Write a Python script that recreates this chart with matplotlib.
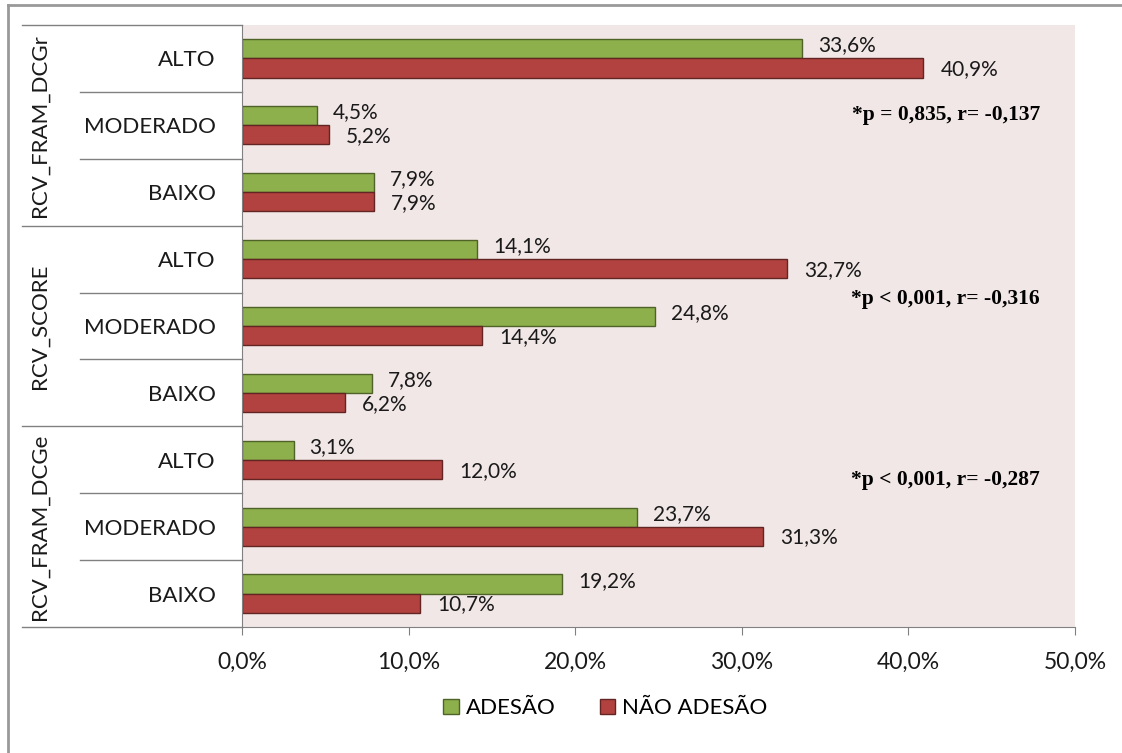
import matplotlib.pyplot as plt
from matplotlib.lines import Line2D

plt.rcParams['font.family'] = ['Lato', 'DejaVu Sans']

groups = ['RCV_FRAM_DCGr', 'RCV_SCORE', 'RCV_FRAM_DCGe']
levels = ['ALTO', 'MODERADO', 'BAIXO']
adesao = [33.6, 4.5, 7.9, 14.1, 24.8, 7.8, 3.1, 23.7, 19.2]
nao_adesao = [40.9, 5.2, 7.9, 32.7, 14.4, 6.2, 12.0, 31.3, 10.7]
stats = ['*p = 0,835, r= -0,137', '*p < 0,001, r= -0,316', '*p < 0,001, r= -0,287']
stat_y = [0.85, 3.6, 6.3]
xticks = [0, 10, 20, 30, 40, 50]

fig = plt.figure(figsize=(11.22, 7.53), dpi=100)
ax = fig.add_axes([242 / 1122, 1 - 627 / 753, 833 / 1122, 602 / 753])
ax.set_facecolor('#f2e7e7')

n = len(adesao)
ypos = list(range(n))
h = 0.285
green = '#8db04c'
red = '#b2423f'
ax.barh([y - h / 2 for y in ypos], adesao, height=h, color=green, edgecolor='#4f6228', linewidth=1, label='ADESÃO')
ax.barh([y + h / 2 for y in ypos], nao_adesao, height=h, color=red, edgecolor='#632523', linewidth=1, label='NÃO ADESÃO')

def fmt(v):
    return ('%.1f%%' % v).replace('.', ',')

for y, v in zip(ypos, adesao):
    ax.annotate(fmt(v), (v, y - h / 2 - 0.05), xytext=(16, 0), textcoords='offset pixels',
                va='center', ha='left', fontsize=15, color='#1a1a1a')
for y, v in zip(ypos, nao_adesao):
    ax.annotate(fmt(v), (v, y + h / 2 + 0.02), xytext=(17, 0), textcoords='offset pixels',
                va='center', ha='left', fontsize=15, color='#1a1a1a')

ax.set_xlim(0, 50)
ax.set_ylim(n - 0.5, -0.5)
ax.set_xticks(xticks)
ax.set_xticklabels([fmt(t) for t in xticks], fontsize=16.5, color='#1a1a1a')
ax.tick_params(axis='x', length=6, color='#808080', pad=12)
ax.set_yticks(ypos)
ax.set_yticklabels(levels * len(groups), fontsize=16, color='#1a1a1a')
ax.tick_params(axis='y', length=0, pad=19)
for s in ['top', 'right']:
    ax.spines[s].set_visible(False)
ax.spines['left'].set_color('#808080')
ax.spines['bottom'].set_color('#808080')

# table lines on the left
tr = ax.get_yaxis_transform()
for g in range(len(groups) + 1):
    yb = g * 3 - 0.5
    ax.plot([-0.264, 0], [yb, yb], transform=tr, color='#808080', lw=1, clip_on=False)
for g in range(len(groups)):
    for k in (1, 2):
        yb = g * 3 + k - 0.5
        ax.plot([-0.195, 0], [yb, yb], transform=tr, color='#808080', lw=1, clip_on=False)
    ax.text(-0.2425, g * 3 + 1, groups[g], transform=tr, rotation=90, ha='center', va='center',
            fontsize=16, color='#1a1a1a')
    ax.text(0.958, stat_y[g], stats[g], transform=tr, ha='right', va='center',
            fontsize=15.5, fontweight='bold', family='Liberation Serif', color='black')

ax.legend(loc='center', bbox_to_anchor=(0.436, -0.135), ncol=2, frameon=False, fontsize=16,
          handlelength=0.7, handleheight=0.7, handletextpad=0.3, columnspacing=2.0)

# outer border (top and left only visible)
fig.add_artist(Line2D([8 / 1122, 1], [1 - 5 / 753, 1 - 5 / 753], transform=fig.transFigure, color='#999999', lw=2))
fig.add_artist(Line2D([8 / 1122, 8 / 1122], [0, 1 - 5 / 753], transform=fig.transFigure, color='#999999', lw=2))

fig.savefig('out.png', dpi=100)
